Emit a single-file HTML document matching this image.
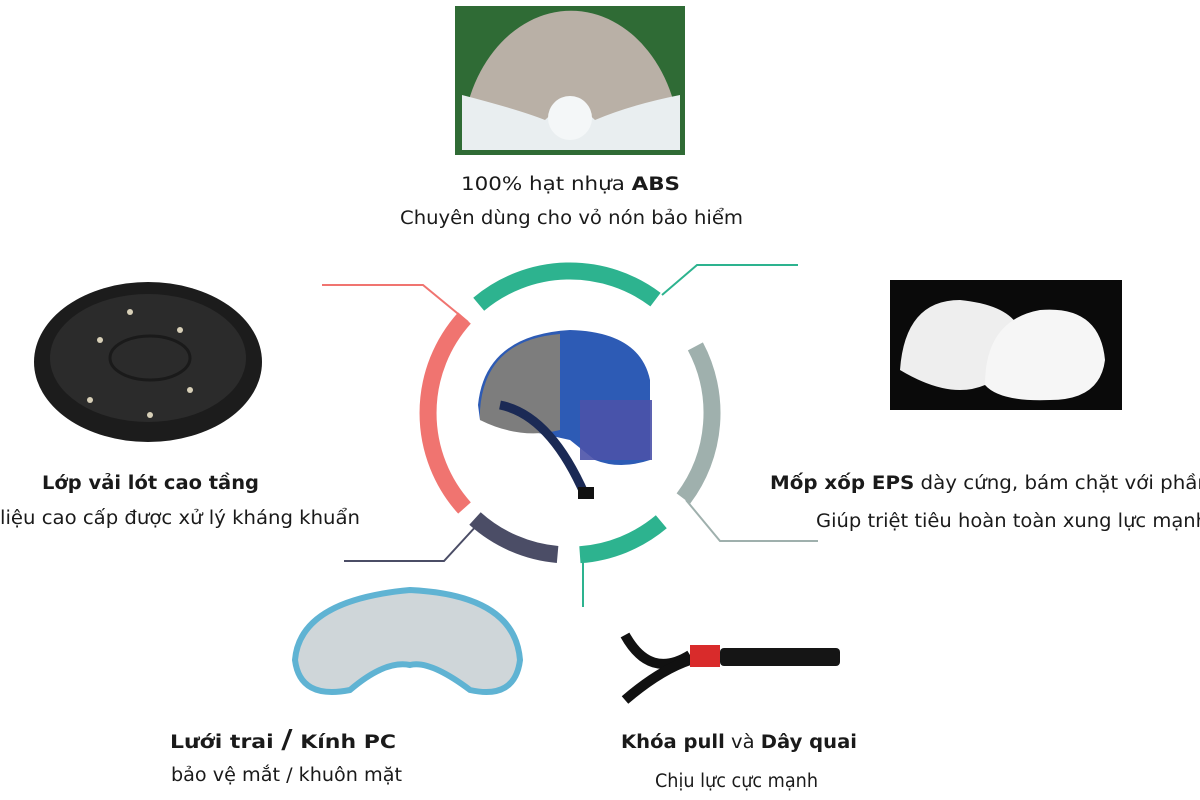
<!DOCTYPE html>
<html><head><meta charset="utf-8"><style>
html,body{margin:0;padding:0;background:#fff;}
svg{display:block}
text{font-family:"DejaVu Sans","Liberation Sans",sans-serif;font-size:18.5px;fill:#1a1a1a}
.b{font-weight:bold}
</style></head><body>
<svg width="1200" height="800" viewBox="0 0 1200 800" xmlns="http://www.w3.org/2000/svg">
<!-- top image -->
<rect x="455" y="6" width="230" height="149" fill="#2f6b35"/>
<path d="M462,150 L462,148 A108,136 0 0 1 680,148 L680,150 Z" fill="#b9b0a6"/>
<path d="M462,150 L462,95 Q520,110 545,120 Q570,95 595,120 Q630,105 680,95 L680,150 Z" fill="#e9eef0"/>
<circle cx="570" cy="118" r="22" fill="#f4f7f8"/>
<!-- left liner -->
<ellipse cx="148" cy="362" rx="114" ry="80" fill="#1c1c1c"/>
<ellipse cx="148" cy="358" rx="98" ry="64" fill="#2b2b2b"/>
<ellipse cx="150" cy="358" rx="40" ry="22" fill="none" stroke="#1a1a1a" stroke-width="3"/>
<g fill="#d8d0b8"><circle cx="100" cy="340" r="3"/><circle cx="180" cy="330" r="3"/><circle cx="90" cy="400" r="3"/><circle cx="190" cy="390" r="3"/><circle cx="130" cy="312" r="3"/><circle cx="150" cy="415" r="3"/></g>
<!-- right EPS -->
<rect x="890" y="280" width="232" height="130" fill="#0a0a0a"/>
<path d="M900,370 Q905,300 960,300 Q1010,305 1020,330 Q990,345 985,385 Q950,400 900,370Z" fill="#eeeeee"/>
<path d="M985,385 Q985,320 1040,310 Q1100,305 1105,360 Q1100,400 1050,400 Q1000,402 985,385Z" fill="#f6f6f6"/>
<!-- visor -->
<path d="M295,660 Q300,600 410,590 Q515,595 520,660 Q515,700 470,690 Q430,660 410,665 Q385,660 350,690 Q300,700 295,660Z" fill="#cfd6d9" stroke="#5fb3d3" stroke-width="6"/>
<!-- strap -->
<path d="M625,635 Q650,680 690,655" stroke="#111" stroke-width="10" fill="none"/>
<path d="M625,700 Q660,670 690,660" stroke="#111" stroke-width="10" fill="none"/>
<rect x="690" y="645" width="30" height="22" fill="#d92b2b"/>
<rect x="720" y="648" width="120" height="18" rx="4" fill="#151515"/>
<!-- central helmet -->
<path d="M478,405 Q485,335 570,330 Q640,332 650,380 L650,460 Q620,470 595,460 L570,440 L480,420Z" fill="#2d5bb5"/>
<path d="M480,410 Q485,340 560,334 L560,430 Q520,440 480,420Z" fill="#7d7d7d"/>
<rect x="580" y="400" width="72" height="60" fill="#4b52a8" opacity="0.9"/>
<path d="M500,405 Q550,415 585,495" stroke="#1b2a55" stroke-width="9" fill="none"/>
<rect x="578" y="487" width="16" height="12" fill="#111"/>
<!-- arcs -->
<g fill="none" stroke-width="17">
<path d="M478.7,304.2 A142,142 0 0 1 655.5,299.6" stroke="#2db38f"/>
<path d="M695.4,346.4 A142,142 0 0 1 683.4,498.5" stroke="#9fb0ad"/>
<path d="M661.3,521.8 A142,142 0 0 1 579.9,554.7" stroke="#2db38f"/>
<path d="M557.6,554.5 A142,142 0 0 1 475,518.5" stroke="#4b4d66"/>
<path d="M464.5,508 A142,142 0 0 1 464.5,318" stroke="#f07470"/>
</g>
<!-- connectors -->
<g fill="none" stroke-width="2">
<polyline points="322,285 423,285 468,322" stroke="#f07470"/>
<polyline points="662,295 697,265 798,265" stroke="#2db38f"/>
<polyline points="686,500 720,541 818,541" stroke="#9fb0ad"/>
<polyline points="583,562 583,607" stroke="#2db38f"/>
<polyline points="478,524 444,561 344,561" stroke="#4b4d66"/>
</g>
<!-- text -->
<text x="461" y="190" textLength="219" lengthAdjust="spacingAndGlyphs">100% hạt nhựa <tspan class="b">ABS</tspan></text>
<text x="400" y="224" textLength="343" lengthAdjust="spacingAndGlyphs">Chuyên dùng cho vỏ nón bảo hiểm</text>
<text x="42" y="489" class="b" textLength="217" lengthAdjust="spacingAndGlyphs">Lớp vải lót cao tầng</text>
<text x="0" y="524" textLength="360" lengthAdjust="spacingAndGlyphs">liệu cao cấp được xử lý kháng khuẩn</text>
<text x="770" y="489" textLength="440" lengthAdjust="spacingAndGlyphs"><tspan class="b">Mốp xốp EPS</tspan> dày cứng, bám chặt với phần</text>
<text x="816" y="527" textLength="392" lengthAdjust="spacingAndGlyphs">Giúp triệt tiêu hoàn toàn xung lực mạnh</text>
<text x="170" y="748" class="b" textLength="226" lengthAdjust="spacingAndGlyphs">Lưới trai <tspan font-size="26">/</tspan> Kính PC</text>
<text x="171" y="781" textLength="231" lengthAdjust="spacingAndGlyphs">bảo vệ mắt / khuôn mặt</text>
<text x="621" y="748" textLength="236" lengthAdjust="spacingAndGlyphs"><tspan class="b">Khóa pull</tspan> và <tspan class="b">Dây quai</tspan></text>
<text x="655" y="787" textLength="163" lengthAdjust="spacingAndGlyphs">Chịu lực cực mạnh</text>
</svg>
</body></html>
